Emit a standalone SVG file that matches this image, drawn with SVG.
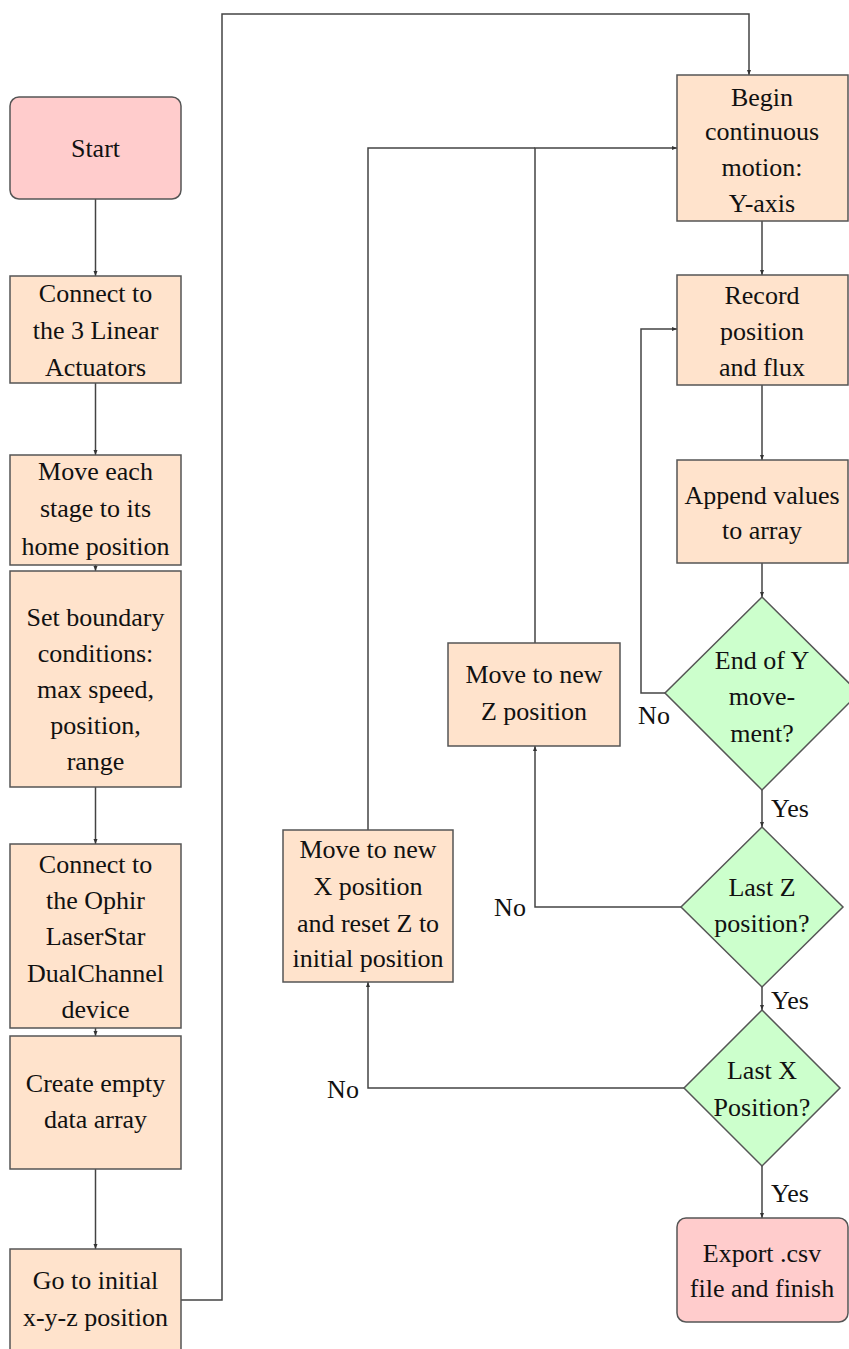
<svg xmlns="http://www.w3.org/2000/svg" width="849" height="1349" viewBox="0 0 849 1349">
<style>
.box{fill:#FFE3CC;stroke:#555;stroke-width:1.5}
.term{fill:#FFCCCC;stroke:#555;stroke-width:1.5}
.dec{fill:#CCFFCC;stroke:#555;stroke-width:1.5}
text{font-family:"Liberation Serif","Times New Roman",serif;font-size:26px;fill:#111;text-anchor:middle}
.lbl{text-anchor:start}
.conn path{fill:none;stroke:#444;stroke-width:1.5}
</style>
<defs>
<marker id="arr" viewBox="0 0 10 10" refX="10" refY="5" markerWidth="5" markerHeight="5" orient="auto" markerUnits="userSpaceOnUse">
<path d="M0,1 L10,5 L0,9 z" fill="#333"/>
</marker>
</defs>
<rect width="849" height="1349" fill="#fff"/>
<g class="conn">
<path d="M95.5,199 V276" marker-end="url(#arr)"/>
<path d="M95.5,383 V455" marker-end="url(#arr)"/>
<path d="M95.5,565 V571" marker-end="url(#arr)"/>
<path d="M95.5,787 V844" marker-end="url(#arr)"/>
<path d="M95.5,1028 V1036" marker-end="url(#arr)"/>
<path d="M95.5,1169 V1249" marker-end="url(#arr)"/>
<path d="M181,1300 H222 V14 H749 V75" marker-end="url(#arr)"/>
<path d="M762,221 V275" marker-end="url(#arr)"/>
<path d="M762,385 V460" marker-end="url(#arr)"/>
<path d="M762,563 V597" marker-end="url(#arr)"/>
<path d="M665,693 H641 V329 H677" marker-end="url(#arr)"/>
<path d="M762,790 V827" marker-end="url(#arr)"/>
<path d="M762,987 V1010" marker-end="url(#arr)"/>
<path d="M762,1166 V1218" marker-end="url(#arr)"/>
<path d="M681,907 H535 V746" marker-end="url(#arr)"/>
<path d="M535,643 V148 H677" marker-end="url(#arr)"/>
<path d="M684,1088 H368 V982" marker-end="url(#arr)"/>
<path d="M368,830 V148 H535"/>
</g>
<g id="start"><rect class="term" x="10" y="97" width="171" height="102" rx="9"/><text x="95.5" y="157">Start</text></g>
<g id="connect-actuators"><rect class="box" x="10" y="276" width="171" height="107"/><text x="95.5" y="302">Connect to</text><text x="95.5" y="339">the 3 Linear</text><text x="95.5" y="376">Actuators</text></g>
<g id="home"><rect class="box" x="10" y="455" width="171" height="110"/><text x="95.5" y="480">Move each</text><text x="95.5" y="517">stage to its</text><text x="95.5" y="555">home position</text></g>
<g id="boundary"><rect class="box" x="10" y="571" width="171" height="216"/><text x="95.5" y="626">Set boundary</text><text x="95.5" y="662">conditions:</text><text x="95.5" y="698">max speed,</text><text x="95.5" y="734">position,</text><text x="95.5" y="770">range</text></g>
<g id="ophir"><rect class="box" x="10" y="844" width="171" height="184"/><text x="95.5" y="873">Connect to</text><text x="95.5" y="909">the Ophir</text><text x="95.5" y="945">LaserStar</text><text x="95.5" y="982">DualChannel</text><text x="95.5" y="1018">device</text></g>
<g id="create-array"><rect class="box" x="10" y="1036" width="171" height="133"/><text x="95.5" y="1092">Create empty</text><text x="95.5" y="1128">data array</text></g>
<g id="initial"><rect class="box" x="10" y="1249" width="171" height="104"/><text x="95.5" y="1289">Go to initial</text><text x="95.5" y="1326">x-y-z position</text></g>
<g id="begin"><rect class="box" x="677" y="75" width="171" height="146"/><text x="762" y="106">Begin</text><text x="762" y="140">continuous</text><text x="762" y="176">motion:</text><text x="762" y="212">Y-axis</text></g>
<g id="record"><rect class="box" x="677" y="275" width="171" height="110"/><text x="762" y="304">Record</text><text x="762" y="340">position</text><text x="762" y="376">and flux</text></g>
<g id="append"><rect class="box" x="677" y="460" width="171" height="103"/><text x="762" y="504">Append values</text><text x="762" y="539">to array</text></g>
<g id="end-y"><polygon class="dec" points="762,597 859,693 762,790 665,693"/><text x="762" y="669">End of Y</text><text x="762" y="705">move-</text><text x="762" y="742">ment?</text></g>
<g id="last-z"><polygon class="dec" points="762,827 843,907 762,987 681,907"/><text x="762" y="896">Last Z</text><text x="762" y="932">position?</text></g>
<g id="last-x"><polygon class="dec" points="762,1010 840,1088 762,1166 684,1088"/><text x="762" y="1079">Last X</text><text x="762" y="1116">Position?</text></g>
<g id="export"><rect class="term" x="677" y="1218" width="171" height="104" rx="9"/><text x="762" y="1262">Export .csv</text><text x="762" y="1297">file and finish</text></g>
<g id="move-z"><rect class="box" x="448" y="643" width="172" height="103"/><text x="534" y="683">Move to new</text><text x="534" y="720">Z position</text></g>
<g id="move-x"><rect class="box" x="283" y="830" width="170" height="152"/><text x="368" y="858">Move to new</text><text x="368" y="895">X position</text><text x="368" y="932">and reset Z to</text><text x="368" y="967">initial position</text></g>
<g id="labels">
<text x="654" y="724">No</text>
<text x="510" y="916">No</text>
<text x="343" y="1098">No</text>
<text class="lbl" x="771" y="817">Yes</text>
<text class="lbl" x="771" y="1009">Yes</text>
<text class="lbl" x="771" y="1202">Yes</text>
</g>
</svg>
